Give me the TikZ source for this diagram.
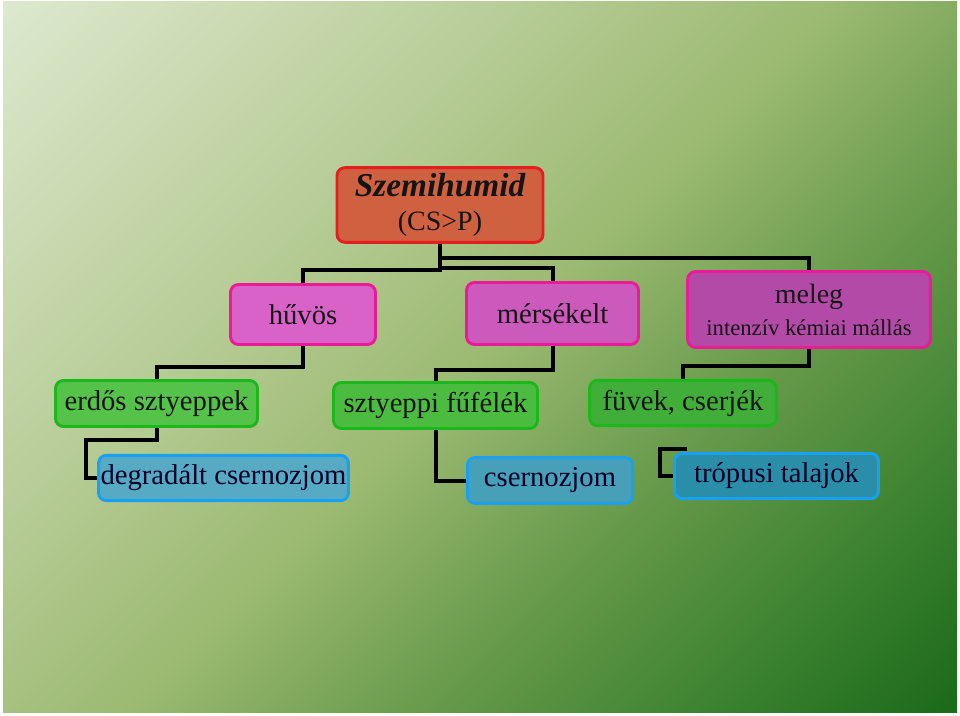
\documentclass[tikz,border=0pt]{standalone}
\usepackage{fontspec}
\setmainfont{Liberation Serif}
\usetikzlibrary{positioning,calc}
\definecolor{bgA}{HTML}{DDE8CE}
\definecolor{bgB}{HTML}{B8CD98}
\definecolor{bgC}{HTML}{9CBA72}
\definecolor{bgD}{HTML}{6A9C4C}
\definecolor{bgE}{HTML}{3F8432}
\definecolor{bgF}{HTML}{1A6A1A}
\definecolor{rootfill}{HTML}{CF6140}
\definecolor{rootline}{HTML}{E41E1E}
\definecolor{pinkline}{HTML}{EA1A98}
\definecolor{greenline}{HTML}{1AB81A}
\definecolor{blueline}{HTML}{1AA0F0}
\definecolor{txt}{HTML}{141414}
\pgfdeclareverticalshading{bgfade}{100bp}{color(0bp)=(bgF); color(14.6bp)=(bgF); color(26bp)=(bgE); color(38bp)=(bgD); color(50bp)=(bgC); color(64bp)=(bgB); color(85.4bp)=(bgA); color(100bp)=(bgA)}
\tikzset{
  box/.style={draw, rounded corners=6pt, line width=2.2pt, inner sep=0pt, align=center, text=txt, font=\fontsize{21.5}{24}\selectfont},
  pinkbox/.style={box, draw=pinkline},
  greenbox/.style={box, draw=greenline},
  bluebox/.style={box, draw=blueline, text=black!85!blue},
  conn/.style={line width=3pt, black}
}
\begin{document}
\begin{tikzpicture}[x=0.75pt,y=0.75pt,yscale=-1,xscale=1]
\useasboundingbox (0,0) rectangle (960,716);
\fill[white] (0,0) rectangle (960,716);
%Background
\shade[shading=bgfade, shading angle=45] (3,2) rectangle (957,712);

%Root
\node[box, draw=rootline, fill=rootfill, minimum width=154.5pt, minimum height=56pt] (root) at (440,205)
  {\fontsize{25}{28}\selectfont\bfseries\itshape Szemihumid\\[1pt]\fontsize{21}{24}\selectfont (CS>P)};

%Level 1
\node[pinkbox, fill={rgb,255:red,216;green,98;blue,200}, minimum width=108.75pt, minimum height=45pt] (huvos) at (303,314.5) {hűvös};
\node[pinkbox, fill={rgb,255:red,204;green,90;blue,188}, minimum width=129pt, minimum height=46.5pt] (merseklet) at (552.5,313.5) {mérsékelt};
\node[pinkbox, fill={rgb,255:red,180;green,74;blue,168}, minimum width=182pt, minimum height=57pt] (meleg) at (809,309.5)
  {\fontsize{21}{22}\selectfont meleg\\\fontsize{17}{19}\selectfont intenzív kémiai mállás};

%Level 2
\node[greenbox, fill={rgb,255:red,85;green,194;blue,74}, minimum width=151.5pt, minimum height=34.5pt] (erdos) at (156.5,403.5) {erdős sztyeppek};
\node[greenbox, fill={rgb,255:red,76;green,188;blue,64}, minimum width=153pt, minimum height=34.5pt] (sztyeppi) at (435.5,405.5) {sztyeppi fűfélék};
\node[greenbox, fill={rgb,255:red,64;green,174;blue,56}, minimum width=140pt, minimum height=34pt] (fuvek) at (683,403) {füvek, cserjék};

%Level 3
\node[bluebox, fill={rgb,255:red,86;green,170;blue,196}, minimum width=187.5pt, minimum height=34pt] (degradalt) at (223.5,478) {degradált csernozjom};
\node[bluebox, fill={rgb,255:red,72;green,160;blue,184}, minimum width=124pt, minimum height=34.5pt] (csernozjom) at (550,480.5) {csernozjom};
\node[bluebox, fill={rgb,255:red,42;green,142;blue,168}, minimum width=153pt, minimum height=34pt] (tropusi) at (776.5,476) {trópusi talajok};

%Connectors
\draw[conn] (root.south) -- ++(0,26) -| (huvos.north);
\draw[conn] (root.south) ++(0,24) -| (merseklet.north);
\draw[conn] (root.south) ++(0,14) -| (meleg.north);
\draw[conn] (huvos.south) -- ++(0,21) -| (erdos.north);
\draw[conn] (merseklet.south) -- ++(0,24) -| (sztyeppi.north);
\draw[conn] (meleg.south) -- ++(0,17) -| (fuvek.north);
\draw[conn] (erdos.south) -- ++(0,12) -| ($(degradalt.west)+(-11,0)$) -- (degradalt.west);
\draw[conn] (sztyeppi.south) |- (csernozjom.west);
\coordinate (tropend) at (687,449);
\draw[conn] (tropend) -| ($(tropusi.west)+(-13,0)$) -- (tropusi.west);

\end{tikzpicture}
\end{document}
